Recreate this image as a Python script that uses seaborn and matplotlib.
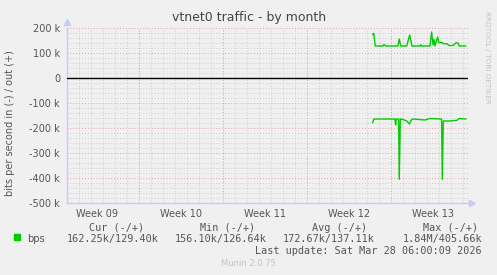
import numpy as np
import pandas as pd
import seaborn as sns
import matplotlib
matplotlib.use("Agg")
import matplotlib.pyplot as plt
from matplotlib.ticker import MultipleLocator, FixedLocator

# ---- data (x = days since Monday of Week 09) ----
out_days = [19.47, 19.56, 19.69, 20.33, 20.42, 20.54, 21.58, 21.69, 21.81, 22.31,
            22.56, 22.75, 23.42, 23.47, 23.54, 24.25, 24.39, 24.50, 24.58, 24.67,
            24.89, 25.00, 25.25, 25.36, 25.69, 25.83, 26.17, 26.42, 26.58, 26.69, 27.25]
out_bps = [173e3, 179e3, 128e3, 128e3, 134e3, 128e3, 128e3, 156e3, 128e3, 128e3,
           172e3, 128e3, 128e3, 133e3, 128e3, 128e3, 184e3, 133e3, 155e3, 128e3,
           164e3, 141e3, 142e3, 137e3, 137e3, 130e3, 130e3, 141e3, 140e3, 128e3, 128e3]
in_days = [19.47, 19.58, 21.33, 21.39, 21.44, 21.64, 21.69, 21.78, 22.00, 22.31,
           22.53, 22.72, 22.86, 23.83, 24.25, 25.22, 25.28, 25.36, 25.92, 26.19,
           26.47, 26.69, 27.25]
in_bps = [-179e3, -164e3, -164e3, -188e3, -164e3, -164e3, -405e3, -164e3, -166e3, -172e3,
          -184e3, -166e3, -164e3, -168e3, -162e3, -164e3, -405e3, -172e3, -172e3, -170e3,
          -170e3, -162e3, -164e3]

week_labels = ["Week 09", "Week 10", "Week 11", "Week 12", "Week 13"]
week_label_pos = [-3.5, 3.5, 10.5, 17.5, 24.5]
week_starts = [0, 7, 14, 21]
y_ticks = [200e3, 100e3, 0, -100e3, -200e3, -300e3, -400e3, -500e3]
y_tick_labels = ["200 k", "100 k", "0", "-100 k", "-200 k", "-300 k", "-400 k", "-500 k"]

legend_headers = ["Cur (-/+)", "Min (-/+)", "Avg (-/+)", "Max (-/+)"]
legend_values = ["162.25k/129.40k", "156.10k/126.64k", "172.67k/137.11k", "1.84M/405.66k"]
last_update = "Last update: Sat Mar 28 06:00:09 2026"

df = pd.concat([
    pd.DataFrame({"day": out_days, "bps": out_bps, "dir": "out"}),
    pd.DataFrame({"day": in_days, "bps": in_bps, "dir": "in"}),
], ignore_index=True)

BG = "#F0F0F0"
TXT = "#555555"
GREEN = "#00CC00"
AXC = "#C8C8FF"

sns.set_style("white")
plt.rcParams["font.family"] = ["DejaVu Sans"]

fig = plt.figure(figsize=(4.97, 2.75), dpi=100, facecolor=BG)
ax = fig.add_axes([67 / 497, 1 - 203 / 275, (468 - 67) / 497, (203 - 28) / 275])
ax.set_facecolor(BG)

ax.set_xlim(-6.0, 27.42)
ax.set_ylim(-500e3, 200e3)

# grids
ax.xaxis.set_minor_locator(MultipleLocator(1))
ax.yaxis.set_minor_locator(MultipleLocator(20e3))
ax.grid(which="minor", color="#CFCFCF", linestyle=(0, (1, 2)), linewidth=0.7)
ax.grid(which="major", axis="y", color="#EBA0A0", linestyle=(0, (1, 2)), linewidth=0.7)
for d in week_starts:
    ax.axvline(d, color="#EBA0A0", linestyle=(0, (1, 2)), linewidth=0.7, zorder=0.6)

sns.lineplot(data=df, x="day", y="bps", hue="dir", palette={"out": GREEN, "in": GREEN},
             units="dir", estimator=None, sort=False, linewidth=1.0, legend=False, ax=ax, zorder=3)
ax.axhline(0, color="black", linewidth=1.0, zorder=4)

ax.set_yticks(y_ticks)
ax.set_yticklabels(y_tick_labels)
ax.xaxis.set_major_locator(FixedLocator(week_label_pos))
ax.set_xticklabels(week_labels)
ax.tick_params(axis="both", which="both", length=0, labelsize=7, colors=TXT)
ax.tick_params(axis="y", pad=5)
ax.tick_params(axis="x", pad=4)
ax.set_xlabel("")
ax.set_ylabel("")

for s in ["top", "right"]:
    ax.spines[s].set_visible(False)
for s in ["left", "bottom"]:
    ax.spines[s].set_color(AXC)
    ax.spines[s].set_linewidth(1.0)
ax.plot([0], [1.035], marker="^", color=AXC, markersize=4, transform=ax.transAxes, clip_on=False)
ax.plot([1.01], [0], marker=">", color=AXC, markersize=4, transform=ax.transAxes, clip_on=False)

# texts
fig.text(249 / 497, 1 - 17 / 275, "vtnet0 traffic - by month", ha="center", va="center",
         fontsize=9, color="#444444")
fig.text(10 / 497, 1 - 123 / 275, "bits per second in (-) / out (+)", rotation=90,
         ha="center", va="center", fontsize=7, color=TXT)
fig.text(487 / 497, 1 - 57 / 275, "RRDTOOL / TOBI OETIKER", rotation=270,
         ha="center", va="center", fontsize=5.2, color="#C4C4C4")

mono = "DejaVu Sans Mono"
fig.patches.append(plt.Rectangle((14 / 497, 1 - 240 / 275), 6 / 497, 6 / 275,
                                 transform=fig.transFigure, color=GREEN))
fig.text(27 / 497, 1 - 239.5 / 275, "bps", ha="left", va="center", fontsize=7.2, color=TXT)
header_x = [89, 200, 312, 423]
value_x = [67, 175, 283, 403]
for hx, h in zip(header_x, legend_headers):
    fig.text(hx / 497, 1 - 227.7 / 275, h, ha="left", va="center", fontsize=7.3,
             family=mono, color=TXT)
for vx, v in zip(value_x, legend_values):
    fig.text(vx / 497, 1 - 239.3 / 275, v, ha="left", va="center", fontsize=7.3,
             family=mono, color=TXT)
fig.text(482 / 497, 1 - 251 / 275, last_update, ha="right", va="center", fontsize=7.3,
         family=mono, color=TXT)
fig.text(248 / 497, 1 - 264 / 275, "Munin 2.0.75", ha="center", va="center",
         fontsize=6, color="#C4C4C4")

fig.savefig("out.png", dpi=100, facecolor=BG)
